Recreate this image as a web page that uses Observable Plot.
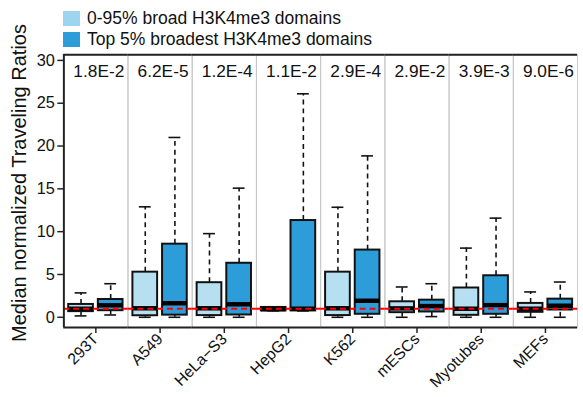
<!DOCTYPE html>
<html>
<head>
<meta charset="utf-8">
<script src="https://cdn.jsdelivr.net/npm/d3@7"></script>
<script src="https://cdn.jsdelivr.net/npm/@observablehq/plot@0.6"></script>
<style>
  html, body { margin: 0; padding: 0; overflow: hidden; background: #fff; }
  #wrap { position: relative; width: 583px; height: 397px; overflow: hidden; font-family: "Liberation Sans", Arial, sans-serif; }
  #chart { position: absolute; left: 0; top: 0; }
  #legend { position: absolute; left: 63px; top: 8px; font-size: 17.5px; color: #111; }
  .row { display: flex; align-items: center; height: 21px; white-space: nowrap; }
  .sw { width: 17px; height: 15px; margin-right: 7px; }
  #ytitle { position: absolute; left: 19px; top: 183px; transform: translate(-50%, -50%) rotate(-90deg); white-space: nowrap; font-size: 20px; color: #111; }
</style>
</head>
<body>
<div id="wrap">
  <div id="chart"></div>
  <div id="legend"></div>
  <div id="ytitle">Median normalized Traveling Ratios</div>
</div>
<script>
// ---- data ----
const groups = ["293T", "A549", "HeLa\u2212S3", "HepG2", "K562", "mESCs", "Myotubes", "MEFs"];
const pvalues = ["1.8E-2", "6.2E-5", "1.2E-4", "1.1E-2", "2.9E-4", "2.9E-2", "3.9E-3", "9.0E-6"];
const seriesNames = ["0-95% broad H3K4me3 domains", "Top 5% broadest H3K4me3 domains"];
const yTicks = [0, 5, 10, 15, 20, 25, 30];

// 0-95% broad domains: whisker low, Q1, median, Q3, whisker high
const broadLow    = [0.16, 0.00, 0.00, 0.75, 0.00, 0.00, 0.00, 0.00];
const broadQ1     = [0.66, 0.18, 0.20, 0.75, 0.20, 0.54, 0.23, 0.58];
const broadMedian = [1.00, 1.05, 1.05, 0.95, 1.05, 1.04, 1.00, 1.00];
const broadQ3     = [1.50, 5.27, 4.04, 1.15, 5.27, 1.81, 3.42, 1.62];
const broadHigh   = [2.85, 12.9, 9.77, 1.15, 12.85, 3.54, 8.08, 2.96];

// Top 5% broadest domains
const topLow    = [0.27, 0.00, 0.00, 0.74, 0.00, 0.08, 0.00, 0.00];
const topQ1     = [0.77, 0.25, 0.27, 0.74, 0.35, 0.62, 0.35, 0.85];
const topMedian = [1.40, 1.64, 1.52, 1.00, 1.93, 1.31, 1.42, 1.35];
const topQ3     = [2.08, 8.54, 6.31, 11.3, 7.85, 2.00, 4.85, 2.12];
const topHigh   = [3.92, 21.0, 15.08, 26.1, 18.85, 3.92, 11.58, 4.12];

const reference = 1;

// ---- colours ----
const boxColors = ["#b6e0f2", "#2c9dd9"];
const legendColors = ["#9dd4ef", "#2c9dd9"];

// ---- build table ----
const rows = [];
groups.forEach((g, i) => {
  rows.push({g, s: "broad", lo: broadLow[i], q1: broadQ1[i], med: broadMedian[i], q3: broadQ3[i], hi: broadHigh[i]});
  rows.push({g, s: "top", lo: topLow[i], q1: topQ1[i], med: topMedian[i], q3: topQ3[i], hi: topHigh[i]});
});
const pRows = groups.map((g, i) => ({g, p: pvalues[i]}));

const W = 590, H = 397, ML = 61, MR = 3;
const facetW = (W - ML - MR) / groups.length;
const step = facetW / (2 - 0.16 + 0.28);
const firstCenter = (facetW - step * 1.84) / 2 + step * 0.84 / 2;

const chart = Plot.plot({
  width: W,
  height: H,
  marginTop: 55,
  marginBottom: 66,
  marginLeft: ML,
  marginRight: MR,
  style: {fontFamily: "'Liberation Sans', Arial, sans-serif", fontSize: "16px", color: "#111", background: "transparent", overflow: "visible"},
  fx: {domain: groups, padding: 0, label: null},
  x: {domain: ["broad", "top"], paddingInner: 0.16, paddingOuter: 0.14, axis: null},
  y: {domain: [-1.2, 30.65], label: null},
  color: {domain: ["broad", "top"], range: boxColors},
  marks: [
    Plot.frame({stroke: "#c8c8c8", strokeWidth: 1}),
    Plot.axisFx({anchor: "bottom", tickSize: 6, tickPadding: 3, tickRotate: -45, label: null, fontSize: 16, stroke: "#222", strokeWidth: 1.5}),
    Plot.axisY({ticks: yTicks, tickSize: 6, tickPadding: 3, label: null, fontSize: 16.5, stroke: "#222", strokeWidth: 1.5}),
    // whiskers
    Plot.ruleX(rows, {fx: "g", x: "s", y1: "q3", y2: "hi", stroke: "#111", strokeWidth: 1.6, strokeDasharray: "5,4"}),
    Plot.ruleX(rows, {fx: "g", x: "s", y1: "lo", y2: "q1", stroke: "#111", strokeWidth: 1.6, strokeDasharray: "5,4"}),
    Plot.tickY(rows, {fx: "g", x: "s", y: "hi", stroke: "#111", strokeWidth: 1.6, insetLeft: 6.5, insetRight: 6.5}),
    Plot.tickY(rows, {fx: "g", x: "s", y: "lo", stroke: "#111", strokeWidth: 1.6, insetLeft: 6.5, insetRight: 6.5}),
    // boxes
    Plot.barY(rows, {fx: "g", x: "s", y1: "q1", y2: "q3", fill: "s", stroke: "#111", strokeWidth: 2}),
    Plot.tickY(rows, {fx: "g", x: "s", y: "med", stroke: "#000", strokeWidth: 4.5}),
    // reference line
    Plot.ruleY([reference], {stroke: "#ff0000", strokeWidth: 2, strokeDasharray: "6,4"}),
    // p-values
    Plot.text(pRows, {fx: "g", text: "p", frameAnchor: "top", dy: 9.5, dx: 3, fontSize: 17.5, fill: "#111"}),
    // plot box: top, bottom, left
    Plot.ruleY([30.65], {stroke: "#222", strokeWidth: 2}),
    Plot.ruleY([-1.2], {stroke: "#222", strokeWidth: 2}),
    Plot.ruleX([groups[0]], {fx: d => d, x: () => "broad", dx: -firstCenter, stroke: "#222", strokeWidth: 2})
  ]
});
document.getElementById("chart").appendChild(chart);

// legend
const legend = document.getElementById("legend");
seriesNames.forEach((name, i) => {
  const row = document.createElement("div");
  row.className = "row";
  const sw = document.createElement("div");
  sw.className = "sw";
  sw.style.background = legendColors[i];
  const t = document.createElement("span");
  t.textContent = name;
  row.appendChild(sw);
  row.appendChild(t);
  legend.appendChild(row);
});
</script>
</body>
</html>
